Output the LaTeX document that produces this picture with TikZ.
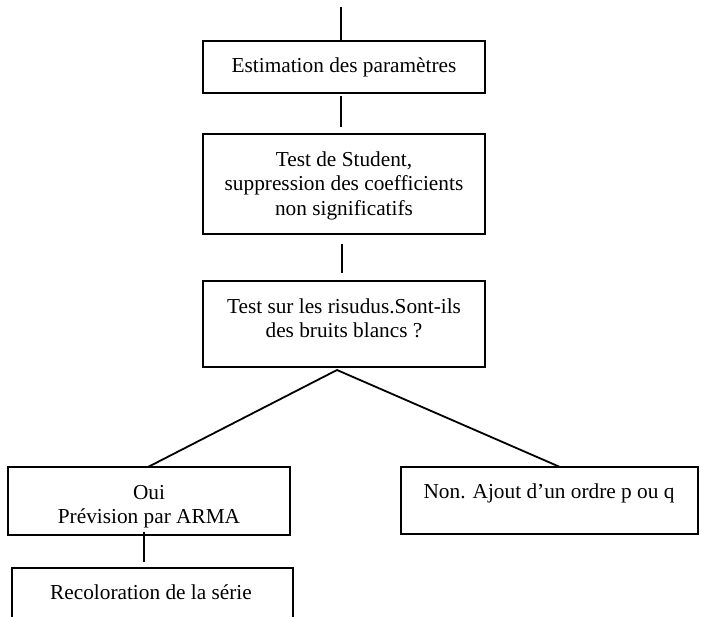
\documentclass[tikz,border=0pt]{standalone}
\usepackage{fontspec}
\setmainfont{Liberation Serif}
\begin{document}
\begin{tikzpicture}[x=1pt,y=-1pt,
  box/.style={draw=black,line width=1.8pt,rectangle,inner sep=0pt,minimum width=282pt},
  txt/.style={anchor=base,inner sep=0pt,font=\fontsize{21.3}{24.5}\selectfont},
  conn/.style={draw=black,line width=1.8pt}]
\useasboundingbox (0,0) rectangle (701,616);
\clip (0,0) rectangle (701,616);
% boxes
\node[box,minimum height=52pt] (b1) at (344,67) {};
\node[box,minimum height=100pt] (b2) at (344,184) {};
\node[box,minimum height=86pt] (b3) at (344,324) {};
\node[box,minimum height=68pt] (b4) at (149,501) {};
\node[box,minimum width=281pt,minimum height=60pt] (b5) at (152.5,598) {};
\node[box,minimum width=297pt,minimum height=67pt] (b6) at (549.5,500.5) {};
% texts
\node[txt] (t1) at (344,72) {Estimation des paramètres};
\node[txt] (t2a) at (344,166) {Test de Student,};
\node[txt] (t2b) at (344,190.5) {suppression des coefficients};
\node[txt] (t2c) at (344,215) {non significatifs};
\node[txt] (t3a) at (344,313) {Test sur les risudus.Sont-ils};
\node[txt] (t3b) at (344,337.5) {des bruits blancs ?};
\node[txt] (t4a) at (149,499) {Oui};
\node[txt] (t4b) at (149,523.5) {Prévision par ARMA};
\node[txt] (t5) at (151,599) {Recoloration de la série};
\node[txt] (t6) at (549,498) {Non. Ajout d’un ordre p ou q};
% connectors
\coordinate (top) at (341,7);
\draw[conn] (top) -- (top |- b1.north);
\coordinate (l1a) at (341,96);
\coordinate (l1b) at (341,127);
\draw[conn] (l1a) -- (l1b);
\coordinate (l2a) at (342,244);
\coordinate (l2b) at (342,273);
\draw[conn] (l2a) -- (l2b);
\coordinate (apex) at (337,370);
\coordinate (yes) at (148,467);
\coordinate (no) at (560,467);
\draw[conn] (yes) -- (apex) -- (no);
\coordinate (l4a) at (144,532);
\coordinate (l4b) at (144,562);
\draw[conn] (l4a) -- (l4b);
\end{tikzpicture}
\end{document}
